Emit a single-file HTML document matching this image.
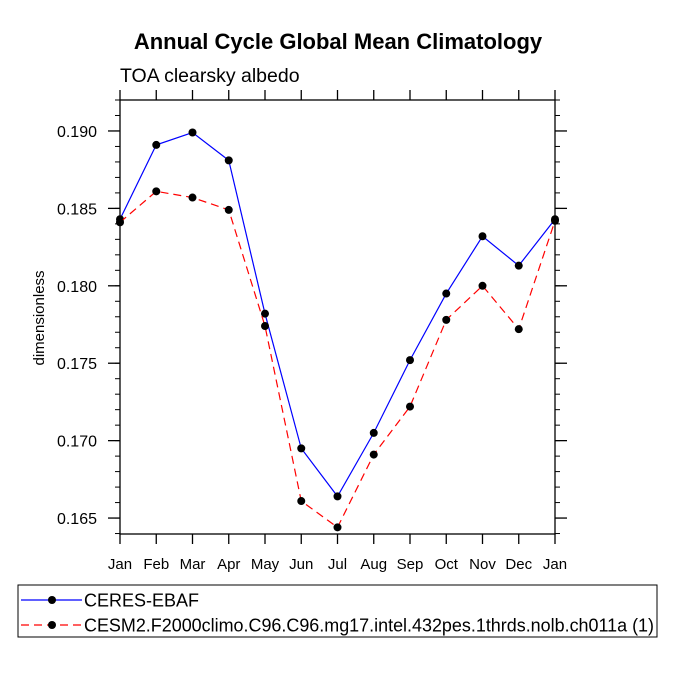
<!DOCTYPE html>
<html><head><meta charset="utf-8"><style>
body{margin:0;background:#fff;}
svg{display:block;font-family:"Liberation Sans",sans-serif;}
</style></head><body>
<svg id="chart" width="675" height="675" viewBox="0 0 675 675">
<text x="338" y="49" text-anchor="middle" font-size="22" font-weight="bold">Annual Cycle Global Mean Climatology</text>
<text x="120" y="82" font-size="19.5">TOA clearsky albedo</text>
<text transform="translate(44,318) rotate(-90)" text-anchor="middle" font-size="15">dimensionless</text>
<g id="axes"></g>
<g id="series"></g>
<rect x="18" y="585" width="639" height="52" fill="none" stroke="#000" stroke-width="1"/>
<g>
<line x1="21" y1="600" x2="82" y2="600" stroke="#00f" stroke-width="1.2"/>
<circle cx="52" cy="600" r="4" fill="#000"/>
<text x="84" y="606.5" font-size="18" textLength="115">CERES-EBAF</text>
</g>
<g>
<line x1="21" y1="625" x2="82" y2="625" stroke="#f00" stroke-width="1.2" stroke-dasharray="8,5"/>
<circle cx="52" cy="625" r="4" fill="#000"/>
<text x="84" y="631.5" font-size="18" textLength="570" lengthAdjust="spacingAndGlyphs">CESM2.F2000climo.C96.C96.mg17.intel.432pes.1thrds.nolb.ch011a (1)</text>
</g>
</svg>
<script>
const months = ["Jan","Feb","Mar","Apr","May","Jun","Jul","Aug","Sep","Oct","Nov","Dec","Jan"];
const ceres = [0.1843,0.1891,0.1899,0.1881,0.1782,0.1695,0.1664,0.1705,0.1752,0.1795,0.1832,0.1813,0.1843];
const cesm = [0.1841,0.1861,0.1857,0.1849,0.1774,0.1661,0.1644,0.1691,0.1722,0.1778,0.1800,0.1772,0.1842];
const yTicks = [0.165,0.170,0.175,0.180,0.185,0.190];
const yTickLabels = ["0.165","0.170","0.175","0.180","0.185","0.190"];
const NS="http://www.w3.org/2000/svg";
const L=120,R=555,T=100,B=534;
const yMin=0.16397,yMax=0.19200;
const xs=i=>L+i*(R-L)/(months.length-1);
const ys=v=>B-(v-yMin)/(yMax-yMin)*(B-T);
function mk(tag,attrs,parent){const e=document.createElementNS(NS,tag);for(const k in attrs)e.setAttribute(k,attrs[k]);parent.appendChild(e);return e;}
const ax=document.getElementById('axes');
const fr=mk('rect',{x:L,y:T,width:R-L,height:B-T,fill:'none',stroke:'#000','stroke-width':1.3},ax);


for(let v=0.164;v<=0.1921;v+=0.001){const y=ys(v);if(y<T-0.5||y>B+0.5)continue;
mk('line',{x1:L,x2:L-5,y1:y,y2:y,stroke:'#000','stroke-width':1},ax);
mk('line',{x1:R,x2:R+5,y1:y,y2:y,stroke:'#000','stroke-width':1},ax);}
yTicks.forEach((v,i)=>{const y=ys(v);
mk('line',{x1:L,x2:L-12,y1:y,y2:y,stroke:'#000','stroke-width':1.3},ax);
mk('line',{x1:R,x2:R+12,y1:y,y2:y,stroke:'#000','stroke-width':1.3},ax);
const t=mk('text',{x:L-23,y:y+6,'text-anchor':'end','font-size':16},ax);t.textContent=yTickLabels[i];

});
months.forEach((m,i)=>{const x=xs(i);
mk('line',{x1:x,x2:x,y1:B,y2:B+10,stroke:'#000','stroke-width':1.3},ax);
mk('line',{x1:x,x2:x,y1:T,y2:T-10,stroke:'#000','stroke-width':1.3},ax);
const t=mk('text',{x:x,y:569,'text-anchor':'middle','font-size':15},ax);t.textContent=m;

});
const sg=document.getElementById('series');
function draw(data,color,dash,name){
const g=mk('g',{},sg);


mk('polyline',{points:data.map((v,i)=>xs(i)+','+ys(v)).join(' '),fill:'none',stroke:color,'stroke-width':1.2,'stroke-dasharray':dash},g);
data.forEach((v,i)=>{const c=mk('circle',{cx:xs(i),cy:ys(v),r:4,fill:'#000'},g);

});
}
draw(ceres,'#00f','none','ceres-series');
draw(cesm,'#f00','8,5','cesm-series');
</script>
</body></html>
